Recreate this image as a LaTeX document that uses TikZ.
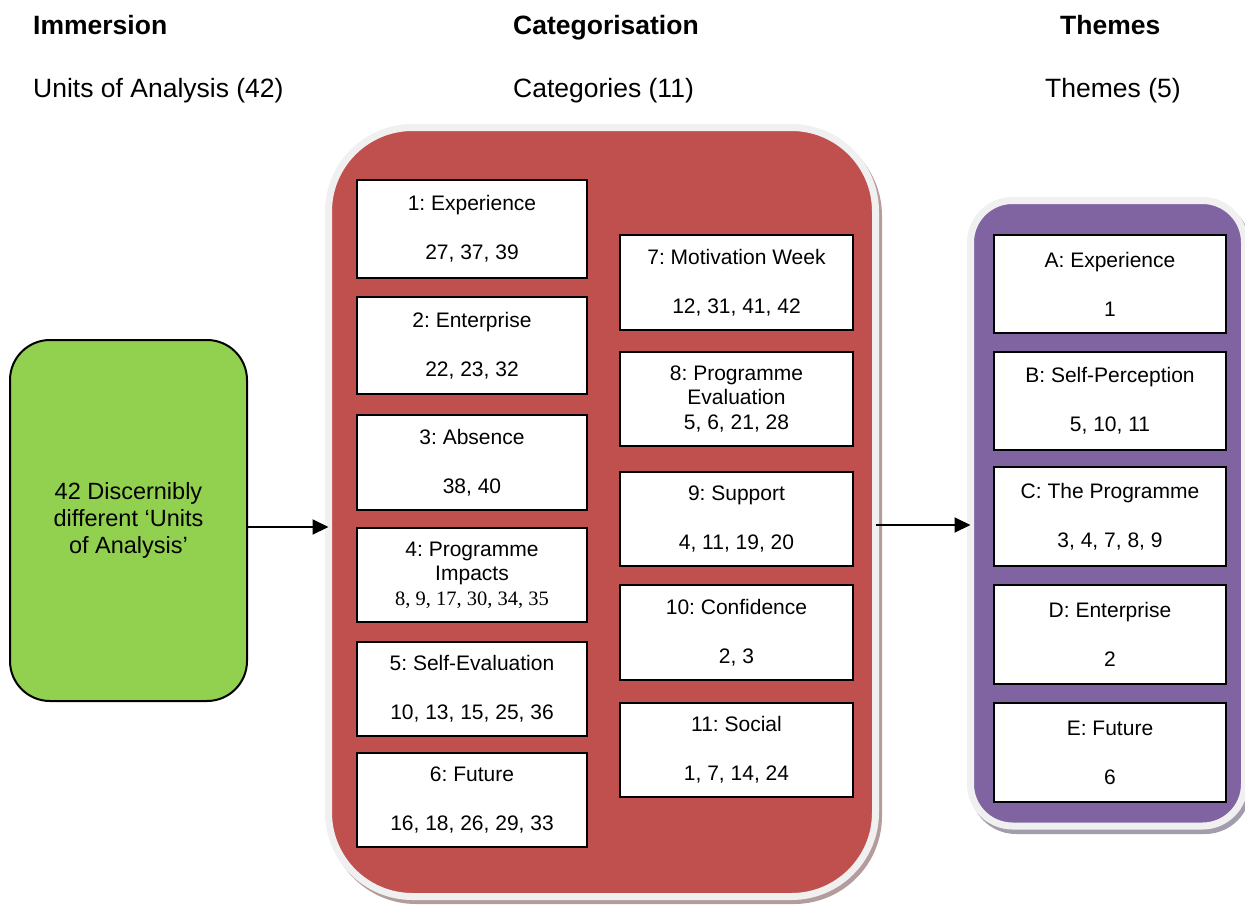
\documentclass[tikz,border=0pt]{standalone}
\usepackage{fontspec}
\setmainfont{Liberation Sans}
\newfontfamily\tnr{Liberation Serif}
\usetikzlibrary{arrows.meta}
\definecolor{catred}{HTML}{C0504D}
\definecolor{thpurple}{HTML}{8064A2}
\definecolor{unitgreen}{HTML}{92D050}
\definecolor{rimgray}{HTML}{F0F0F0}
\definecolor{redshadow}{HTML}{B49C9C}
\definecolor{purpshadow}{HTML}{A39CAD}
\frenchspacing
\begin{document}
\begin{tikzpicture}[x=1pt,y=-1pt,
  hdr/.style={font=\bfseries\fontsize{26.5}{30}\selectfont, inner sep=0, anchor=base west},
  sub/.style={font=\fontsize{26.5}{30}\selectfont, inner sep=0, anchor=base west},
  box/.style={draw=black, line width=2pt, fill=white, inner sep=0, align=center,
    font=\fontsize{21}{24.5}\selectfont},
  lbox/.style={box, minimum width=230pt},
  rbox/.style={box, minimum width=233pt},
  tbox/.style={box, minimum width=232pt},
  container/.style={draw=rimgray, line width=7pt, outer sep=0, inner sep=0},
  unitbox/.style={draw=black, line width=2pt, fill=unitgreen, rounded corners=40pt,
    inner sep=0, outer sep=0, align=center, font=\fontsize{23.5}{27}\selectfont},
  arr/.style={line width=2pt, -{Triangle[length=16pt,width=15pt]}},
]
\useasboundingbox (0,0) rectangle (1245,911);

% headers
\node[hdr] (h1) at (33,34.5) {Immersion};
\node[hdr] (h2) at (513,34.5) {Categorisation};
\node[hdr] (h3) at (1060,34.5) {Themes};
\node[sub] (s1) at (33,97.5) {Units of Analysis (42)};
\node[sub] (s2) at (513,97.5) {Categories (11)};
\node[sub] (s3) at (1045,97.5) {Themes (5)};

% containers (shadows first)
\fill[redshadow, rounded corners=88pt] (328,128) rectangle (882,904);
\node[container, fill=catred, rounded corners=84pt, minimum width=547pt, minimum height=769pt] (cat) at (602,512) {};
\fill[purpshadow, rounded corners=46pt] (970,201) rectangle (1251,834);
\node[container, fill=thpurple, rounded corners=42pt, minimum width=274pt, minimum height=625.5pt] (them) at (1107.5,513.25) {};

% units box
\node[unitbox, minimum width=237pt, minimum height=361pt] (units) at (128.5,520.5)
  {42 Discernibly\\different ‘Units\\of Analysis’};

% categories, left column
\node[lbox, minimum height=98pt] (c1) at (472,228.5) {1: Experience\\[24.5pt]27, 37, 39};
\node[lbox, minimum height=97pt] (c2) at (472,345.5) {2: Enterprise\\[24.5pt]22, 23, 32};
\node[lbox, minimum height=95pt] (c3) at (472,462.5) {3: Absence\\[24.5pt]38, 40};
\node[lbox, minimum height=94pt] (c4) at (472,575) {4: Programme\\Impacts\\{\tnr\fontsize{20.5}{24.5}\selectfont 8, 9, 17, 30, 34, 35}};
\node[lbox, minimum height=94pt] (c5) at (472,689) {5: Self-Evaluation\\[24.5pt]10, 13, 15, 25, 36};
\node[lbox, minimum height=94pt] (c6) at (472,800) {6: Future\\[24.5pt]16, 18, 26, 29, 33};

% categories, right column
\node[rbox, minimum height=95pt] (c7) at (736.5,282.5) {7: Motivation Week\\[24.5pt]12, 31, 41, 42};
\node[rbox, minimum height=94pt] (c8) at (736.5,399) {8: Programme\\Evaluation\\5, 6, 21, 28};
\node[rbox, minimum height=94pt] (c9) at (736.5,519) {9: Support\\[24.5pt]4, 11, 19, 20};
\node[rbox, minimum height=95pt] (c10) at (736.5,632.5) {10: Confidence\\[24.5pt]2, 3};
\node[rbox, minimum height=94pt] (c11) at (736.5,750) {11: Social\\[24.5pt]1, 7, 14, 24};

% themes
\node[tbox, minimum height=98pt] (tA) at (1110,284) {A: Experience\\[24.5pt]1};
\node[tbox, minimum height=98pt] (tB) at (1110,401) {B: Self-Perception\\[24.5pt]5, 10, 11};
\node[tbox, minimum height=99pt] (tC) at (1110,516.5) {C: The Programme\\[24.5pt]3, 4, 7, 8, 9};
\node[tbox, minimum height=99pt] (tD) at (1110,634.5) {D: Enterprise\\[24.5pt]2};
\node[tbox, minimum height=99pt] (tE) at (1110,752.5) {E: Future\\[24.5pt]6};

% connectors
\draw[arr] ([yshift=-6.5pt]units.east) coordinate (a1) -- (a1 -| cat.west);
\draw[arr] ([yshift=-13pt]cat.east) coordinate (a2) -- (a2 -| them.west);
\end{tikzpicture}
\end{document}
